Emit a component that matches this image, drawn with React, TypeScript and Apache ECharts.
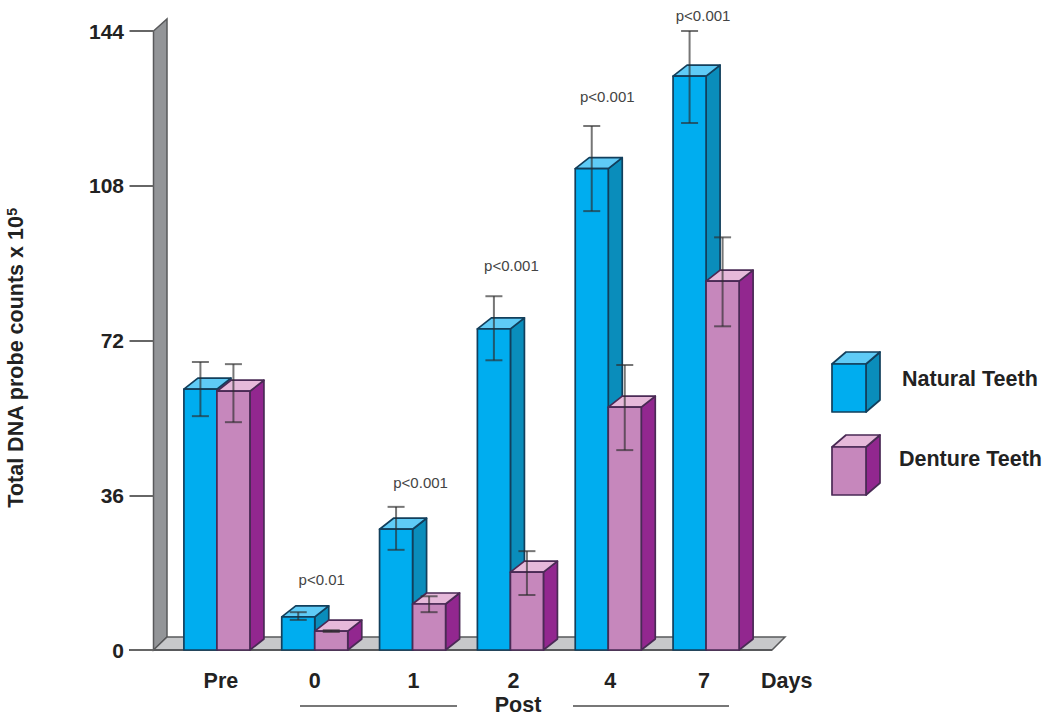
import React, { useEffect, useRef } from "react";
import * as echarts from "echarts";

const categories = ["Pre", "0", "1", "2", "4", "7"];
const labelNudge = [4, 0, 1, 3, 2, -2];
const naturalTeeth = [60.7, 7.7, 28.1, 74.7, 112, 133.5];
const naturalLow = [54.4, 7, 23.3, 67.4, 102.1, 122.6];
const naturalHigh = [67, 8.8, 33.3, 82.3, 121.9, 144];
const dentureTeeth = [60.2, 4.4, 10.7, 18.1, 56.5, 85.8];
const dentureLow = [53, 4.2, 8.8, 12.8, 46.5, 75.3];
const dentureHigh = [66.5, 4.6, 12.5, 23, 66.3, 96];
const pLabels = ["", "p<0.01", "p<0.001", "p<0.001", "p<0.001", "p<0.001"];
const pLevels = [0, 16.5, 39, 89.5, 128.8, 147.5];
const pNudge = [0, 7, 8, 1, -1, -3];
const yTicks = { min: 0, max: 144, interval: 36 };

const DX = 14;
const DY = 11;
const FONT = '"Liberation Sans", Arial, sans-serif';
const BLUE = { front: "#00ADEF", top: "#5FCBF6", side: "#0A8DBB", edge: "#123F5C" };
const PURPLE = { front: "#C687BC", top: "#E6B9DA", side: "#92278F", edge: "#4A2A55" };

function box(x: number, y: number, w: number, base: number, c: typeof BLUE) {
  const stroke = { stroke: c.edge, lineWidth: 1.7, lineJoin: "round" };
  return [
    { type: "polygon", shape: { points: [[x + w, y], [x + w + DX, y - DY], [x + w + DX, base - DY], [x + w, base]] }, style: { fill: c.side, ...stroke } },
    { type: "polygon", shape: { points: [[x, y], [x + DX, y - DY], [x + w + DX, y - DY], [x + w, y]] }, style: { fill: c.top, ...stroke } },
    { type: "rect", shape: { x, y, width: w, height: base - y }, style: { fill: c.front, ...stroke } },
  ];
}

function barSeries(name: string, vals: number[], lo: number[], hi: number[], c: typeof BLUE, side: number) {
  return {
    type: "custom",
    name,
    clip: false,
    encode: { x: 0, y: 1 },
    data: vals.map((v, i) => [i, v, lo[i], hi[i]]),
    renderItem: (_p: any, api: any) => {
      const i = api.value(0);
      const [cx, top] = api.coord([i, api.value(1)]);
      const [, base] = api.coord([i, 0]);
      const w = api.size([1, 0])[0] * 0.3375;
      const x = side < 0 ? cx - w : cx;
      const ex = x + w / 2;
      const yLo = api.coord([i, api.value(2)])[1];
      const yHi = api.coord([i, api.value(3)])[1];
      const es = { stroke: "rgba(45,45,45,0.65)", lineWidth: 2 };
      return {
        type: "group",
        children: [
          ...box(x, top, w, base, c),
          { type: "line", shape: { x1: ex, y1: yHi, x2: ex, y2: yLo }, style: es },
          { type: "line", shape: { x1: ex - 8.5, y1: yHi, x2: ex + 8.5, y2: yHi }, style: es },
          { type: "line", shape: { x1: ex - 8.5, y1: yLo, x2: ex + 8.5, y2: yLo }, style: es },
        ],
      };
    },
  };
}

const pSeries = {
  type: "custom",
  name: "Significance",
  clip: false,
  encode: { x: 0, y: 1 },
  data: pLevels.map((v, i) => [i, v]),
  renderItem: (_p: any, api: any) => {
    const i = api.value(0);
    if (!pLabels[i]) return null;
    const [cx, y] = api.coord([i, api.value(1)]);
    return {
      type: "text",
      x: cx + pNudge[i],
      y,
      style: { text: pLabels[i], font: `15px ${FONT}`, fill: "#444", textAlign: "center", textVerticalAlign: "middle" },
    };
  },
};

function legendBox(x: number, y: number, w: number, h: number, c: typeof BLUE) {
  const stroke = { stroke: c.edge, lineWidth: 1.7, lineJoin: "round" };
  return [
    { type: "polygon", shape: { points: [[x + w, y], [x + w + 14, y - 12], [x + w + 14, y + h - 12], [x + w, y + h]] }, style: { fill: c.side, ...stroke } },
    { type: "polygon", shape: { points: [[x, y], [x + 14, y - 12], [x + w + 14, y - 12], [x + w, y]] }, style: { fill: c.top, ...stroke } },
    { type: "rect", shape: { x, y, width: w, height: h }, style: { fill: c.front, ...stroke } },
  ];
}

const boldText = (text: string, x: number, y: number, align = "left") => ({
  type: "text",
  x,
  y,
  style: { text, font: `bold 21.5px ${FONT}`, fill: "#222", textAlign: align, textVerticalAlign: "middle" },
});

const option = {
  animation: false,
  backgroundColor: "#fff",
  grid: { left: 168, width: 587, top: 31, bottom: 75, containLabel: false, outerBoundsMode: "none" },
  xAxis: {
    type: "category",
    data: categories.map((c, i) => ({
      value: c,
      textStyle: { padding: labelNudge[i] >= 0 ? [0, 0, 0, labelNudge[i] * 2] : [0, -labelNudge[i] * 2, 0, 0] },
    })),
    axisLine: { show: false },
    axisTick: { show: false },
    axisLabel: { margin: 20, fontFamily: FONT, fontWeight: "bold", fontSize: 21.5, color: "#222" },
  },
  yAxis: {
    type: "value",
    ...yTicks,
    offset: 14.5,
    splitLine: { show: false },
    axisLine: { show: false },
    axisTick: { show: true, length: 24, lineStyle: { color: "#666", width: 2 } },
    axisLabel: { margin: 29.5, fontFamily: FONT, fontWeight: "bold", fontSize: 21, color: "#222" },
    name: "{a|Total DNA probe counts x 10}{s|5}",
    nameLocation: "middle",
    nameGap: 126,
    nameTextStyle: {
      padding: [0, 35, 0, 0],
      rich: {
        a: { fontFamily: FONT, fontWeight: "bold", fontSize: 21.5, color: "#222" },
        s: { fontFamily: FONT, fontWeight: "bold", fontSize: 14, color: "#222", verticalAlign: "top", padding: [0, 0, 9, 0] },
      },
    },
  },
  graphic: [
    { type: "polygon", shape: { points: [[153.5, 650], [153.5, 31], [167, 19], [167, 637]] }, style: { fill: "#939598", stroke: "#58595B", lineWidth: 1.5 } },
    { type: "polygon", shape: { points: [[153.5, 650], [167, 637], [785, 637], [772, 650]] }, style: { fill: "#C7C8CA", stroke: "#58595B", lineWidth: 1.5 } },
    { type: "line", shape: { x1: 129, y1: 650, x2: 772, y2: 650 }, style: { stroke: "#58595B", lineWidth: 2 } },
    ...legendBox(832, 364, 34, 48, BLUE),
    ...legendBox(832, 447, 34, 48, PURPLE),
    boldText("Natural Teeth", 902, 379),
    boldText("Denture Teeth", 899, 459),
    boldText("Days", 761, 681),
    boldText("Post", 518, 705, "center"),
    { type: "line", shape: { x1: 300, y1: 706, x2: 457, y2: 706 }, style: { stroke: "#777", lineWidth: 2 } },
    { type: "line", shape: { x1: 573, y1: 706, x2: 729, y2: 706 }, style: { stroke: "#777", lineWidth: 2 } },
  ],
  series: [
    barSeries("Natural Teeth", naturalTeeth, naturalLow, naturalHigh, BLUE, -1),
    barSeries("Denture Teeth", dentureTeeth, dentureLow, dentureHigh, PURPLE, 1),
    pSeries,
  ],
};

export default function App() {
  const ref = useRef<HTMLDivElement>(null);
  useEffect(() => {
    const chart = echarts.init(ref.current!, undefined, { renderer: "svg" });
    chart.setOption(option as any);
    return () => chart.dispose();
  }, []);
  return <div ref={ref} style={{ position: "absolute", left: 0, top: 0, width: 1050, height: 725 }} />;
}
